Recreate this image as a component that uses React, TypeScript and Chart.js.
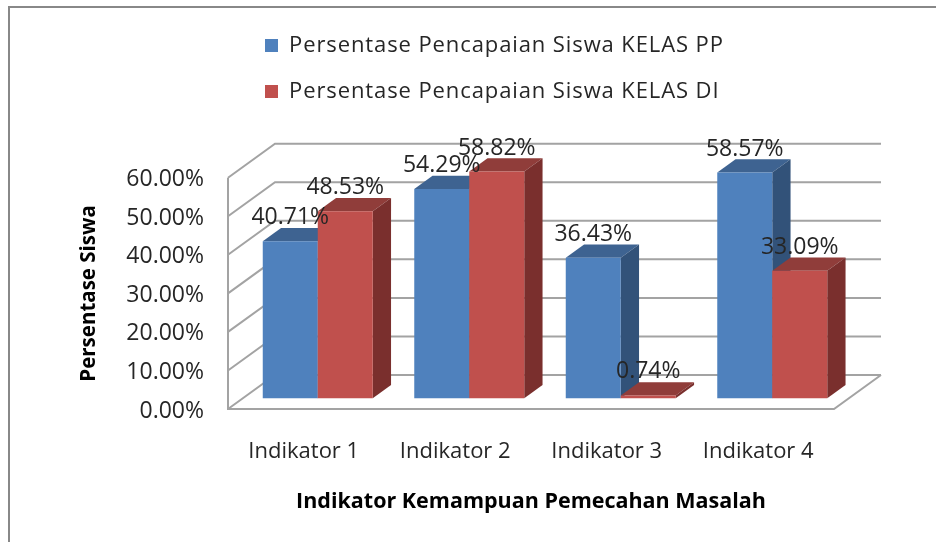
import React, { useEffect, useRef } from "react";
import { Chart, registerables } from "chart.js";

Chart.register(...registerables);

const categories = ["Indikator 1", "Indikator 2", "Indikator 3", "Indikator 4"];
const kelasPP = [40.71, 54.29, 36.43, 58.57];
const kelasDI = [48.53, 58.82, 0.74, 33.09];
const seriesNames = ["Persentase Pencapaian Siswa KELAS PP", "Persentase Pencapaian Siswa KELAS DI"];
const yTitle = "Persentase Siswa";
const xTitle = "Indikator Kemampuan Pemecahan Masalah";

const FONT = "'Open Sans', sans-serif";
const INK = "#262626";
const GRID = "#a3a3a3";
const FRONT = ["#4F81BD", "#C0504D"];
const TOP = ["#3E6391", "#903D3A"];
const SIDE = ["#325279", "#7A2F2D"];

const WALL_DX = 47;
const WALL_DY = -34;
const BAR_DX = 14;
const BAR_DY = -10.7;
const FACE_DX = 18.3;
const FACE_DY = -13.3;

const poly = (ctx: CanvasRenderingContext2D, pts: number[][], fill: string) => {
  ctx.beginPath();
  pts.forEach(([x, y], i) => (i ? ctx.lineTo(x, y) : ctx.moveTo(x, y)));
  ctx.closePath();
  ctx.fillStyle = fill;
  ctx.fill();
};

const drawFaces = (ctx: CanvasRenderingContext2D, meta: any, i: number) => {
  meta.data.forEach((b: any) => {
    const l = b.x - b.width / 2;
    const r = b.x + b.width / 2;
    poly(ctx, [[l, b.y], [r, b.y], [r + FACE_DX, b.y + FACE_DY], [l + FACE_DX, b.y + FACE_DY]], TOP[i]);
    poly(ctx, [[r, b.y], [r + FACE_DX, b.y + FACE_DY], [r + FACE_DX, b.base + FACE_DY], [r, b.base]], SIDE[i]);
  });
};

const bar3d = {
  id: "bar3d",
  beforeDraw(chart: any) {
    const { ctx, chartArea: a, scales } = chart;
    const y = scales.y;
    ctx.save();
    ctx.strokeStyle = "#888888";
    ctx.lineWidth = 2;
    ctx.beginPath();
    ctx.moveTo(9, 542);
    ctx.lineTo(9, 7);
    ctx.lineTo(936, 7);
    ctx.stroke();
    ctx.strokeStyle = GRID;
    ctx.lineWidth = 2;
    ctx.beginPath();
    ctx.moveTo(a.left, a.top);
    ctx.lineTo(a.left, a.bottom);
    ctx.lineTo(a.right, a.bottom);
    ctx.lineTo(a.right + WALL_DX, a.bottom + WALL_DY);
    ctx.stroke();
    y.ticks.forEach((t: any) => {
      const py = y.getPixelForValue(t.value);
      ctx.beginPath();
      ctx.moveTo(a.left, py);
      ctx.lineTo(a.left + WALL_DX, py + WALL_DY);
      ctx.lineTo(a.right + WALL_DX, py + WALL_DY);
      ctx.stroke();
    });
    ctx.restore();
  },
  // Chart.js paints the last dataset first, so the first one would cover the
  // second. Here blue is painted first, and the red one goes over its side face.
  beforeDatasetDraw(chart: any, args: any) {
    if (args.index === 0) return false;
    const { ctx } = chart;
    ctx.save();
    ctx.translate(BAR_DX, BAR_DY);
    const first = chart.getDatasetMeta(0);
    drawFaces(ctx, first, 0);
    first.controller.draw();
    drawFaces(ctx, args.meta, args.index);
    return true;
  },
  afterDatasetDraw(chart: any) {
    chart.ctx.restore();
  },
  afterDatasetsDraw(chart: any) {
    const { ctx } = chart;
    ctx.save();
    ctx.font = `23px ${FONT}`;
    ctx.fillStyle = INK;
    ctx.textAlign = "center";
    ctx.textBaseline = "middle";
    chart.data.datasets.forEach((ds: any, i: number) => {
      chart.getDatasetMeta(i).data.forEach((b: any, j: number) => {
        ctx.fillText(`${ds.data[j].toFixed(2)}%`, b.x + BAR_DX, b.y + BAR_DY - 23.5);
      });
    });
    ctx.restore();
  },
  afterLayout(chart: any) {
    const lg = chart.legend;
    if (!lg) return;
    const w = lg.width;
    const h = lg.height;
    lg.left = 241;
    lg.right = 241 + w + 80;
    lg.top = 10.5;
    lg.bottom = 10.5 + h;
    if (!lg.__spaced) {
      lg.__spaced = true;
      const orig = lg.draw;
      lg.draw = function (...a: any[]) {
        const c = this.ctx;
        c.save();
        c.letterSpacing = "0.9px";
        orig.apply(this, a);
        c.restore();
      };
    }
  },
};

export default function App() {
  const ref = useRef<HTMLCanvasElement>(null);
  useEffect(() => {
    const chart = new Chart(ref.current!, {
      type: "bar",
      plugins: [bar3d],
      data: {
        labels: categories,
        datasets: [
          { label: seriesNames[0], data: kelasPP, backgroundColor: FRONT[0] },
          { label: seriesNames[1], data: kelasDI, backgroundColor: FRONT[1] },
        ],
      },
      options: {
        animation: false,
        responsive: false,
        clip: false,
        layout: { padding: { left: 70, right: 102, top: 177.7, bottom: 20 } },
        datasets: { bar: { categoryPercentage: 0.726, barPercentage: 1 } },
        plugins: {
          tooltip: { enabled: false },
          legend: {
            position: "chartArea",
            align: "start",
            labels: {
              boxWidth: 13,
              boxHeight: 13,
              padding: 24,
              color: INK,
              font: { family: FONT, size: 22 },
            },
          },
        },
        scales: {
          x: {
            grid: { display: false },
            border: { display: false },
            afterFit: (s: any) => { s.height = 113; },
            ticks: { color: INK, padding: 22, maxRotation: 0, font: { family: FONT, size: 22 } },
            title: {
              display: true,
              text: xTitle,
              color: "#000",
              padding: { top: 0, bottom: 7 },
              font: { family: FONT, size: 21.5, weight: "bold" },
            },
          },
          y: {
            min: 0,
            max: 60,
            grid: { display: false },
            border: { display: false },
            afterFit: (s: any) => { s.width = 158; },
            ticks: {
              stepSize: 10,
              color: INK,
              padding: 16,
              labelOffset: 2,
              font: { family: FONT, size: 23 },
              callback: (v: any) => `${Number(v).toFixed(2)}%`,
            },
            title: {
              display: true,
              text: yTitle,
              color: "#000",
              padding: { top: 7, bottom: 0 },
              font: { family: FONT, size: 20.5, weight: "bold" },
            },
          },
        },
      } as any,
    });
    return () => chart.destroy();
  }, []);
  return (
    <div style={{ position: "absolute", left: 0, top: 0, width: 936, height: 542, background: "#fff" }}>
      <canvas ref={ref} width={936} height={542} style={{ display: "block" }} />
    </div>
  );
}
